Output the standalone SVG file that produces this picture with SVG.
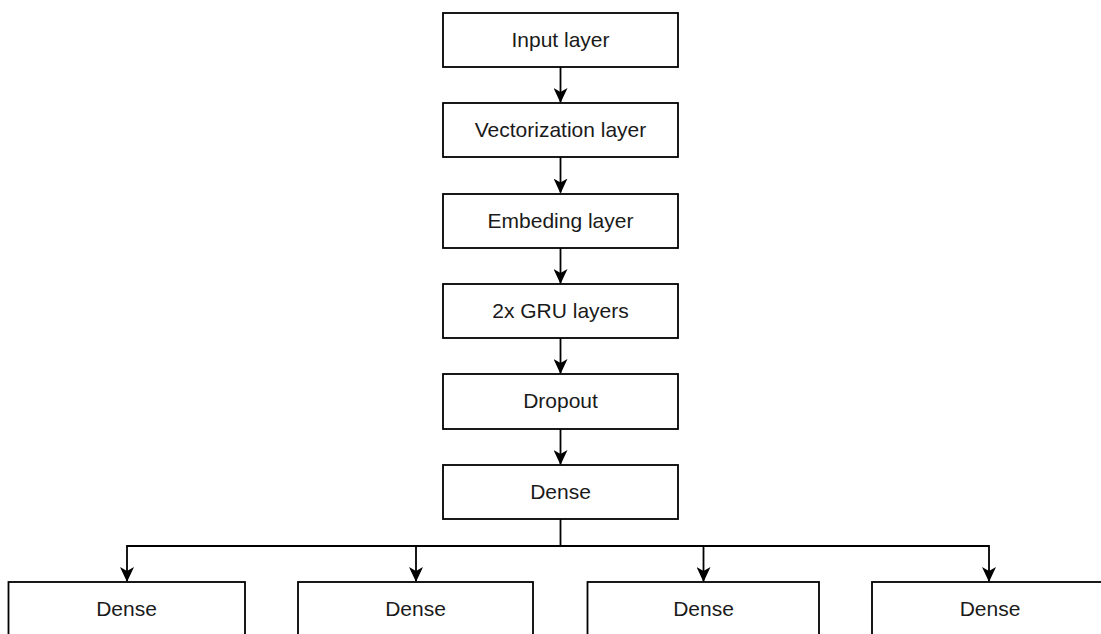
<svg xmlns="http://www.w3.org/2000/svg" width="1101" height="634" viewBox="0 0 1101 634">
<defs>
<style>
.box{fill:#fff;stroke:#000;stroke-width:1.8}
.lbl{font-family:"Liberation Sans",Arial,sans-serif;font-size:21px;fill:#1a1a1a;text-anchor:middle;dominant-baseline:central}
.edge{fill:none;stroke:#000;stroke-width:1.8}
</style>
<marker id="ah" viewBox="0 0 15 14" refX="14" refY="7" markerWidth="15" markerHeight="14" markerUnits="userSpaceOnUse" orient="auto">
<path d="M0,0 L15,7 L0,14 L4,7 Z" fill="#000"/>
</marker>
</defs>
<g id="connectors">
<path class="edge" d="M560.5,67 V102" marker-end="url(#ah)"/>
<path class="edge" d="M560.5,157 V192.5" marker-end="url(#ah)"/>
<path class="edge" d="M560.5,248 V283" marker-end="url(#ah)"/>
<path class="edge" d="M560.5,338 V373" marker-end="url(#ah)"/>
<path class="edge" d="M560.5,429 V464" marker-end="url(#ah)"/>
<path class="edge" d="M560.5,519 V546 H127 V581" marker-end="url(#ah)"/>
<path class="edge" d="M560.5,546 H416 V581" marker-end="url(#ah)"/>
<path class="edge" d="M560.5,546 H703.5 V581" marker-end="url(#ah)"/>
<path class="edge" d="M560.5,546 H989 V581" marker-end="url(#ah)"/>
</g>
<g id="input"><rect class="box" x="443" y="13" width="235" height="54"/><text class="lbl" x="560.5" y="39">Input layer</text></g>
<g id="vectorization"><rect class="box" x="443" y="103" width="235" height="54"/><text class="lbl" x="560.5" y="129">Vectorization layer</text></g>
<g id="embeding"><rect class="box" x="443" y="194" width="235" height="54"/><text class="lbl" x="560.5" y="220">Embeding layer</text></g>
<g id="gru"><rect class="box" x="443" y="284" width="235" height="54"/><text class="lbl" x="560.5" y="310">2x GRU layers</text></g>
<g id="dropout"><rect class="box" x="443" y="374" width="235" height="55"/><text class="lbl" x="560.5" y="400">Dropout</text></g>
<g id="dense-main"><rect class="box" x="443" y="465" width="235" height="54"/><text class="lbl" x="560.5" y="491">Dense</text></g>
<g id="dense-1"><rect class="box" x="8.5" y="582" width="236.5" height="70"/><text class="lbl" x="126.5" y="608">Dense</text></g>
<g id="dense-2"><rect class="box" x="298" y="582" width="235" height="70"/><text class="lbl" x="415.5" y="608">Dense</text></g>
<g id="dense-3"><rect class="box" x="587.5" y="582" width="231.5" height="70"/><text class="lbl" x="703.5" y="608">Dense</text></g>
<g id="dense-4"><rect class="box" x="872" y="582" width="236" height="70"/><text class="lbl" x="990" y="608">Dense</text></g>
</svg>
